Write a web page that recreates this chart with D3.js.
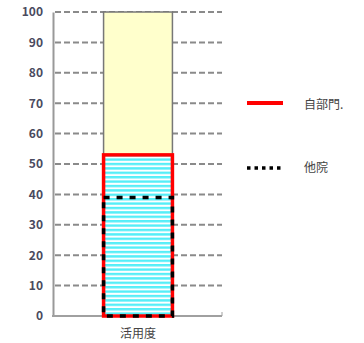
<!DOCTYPE html>
<html><head><meta charset="utf-8">
<script src="https://cdn.jsdelivr.net/npm/d3@7"></script>
<style>body{margin:0;background:#fff;}svg{display:block;}</style>
</head><body>
<script>
const categories = ["活用度"];
const selfValues = [53];      // 自部門
const otherValues = [39];     // 他院
const maxValues = [100];
const yTicks = [0,10,20,30,40,50,60,70,80,90,100];
const legendLabels = ["自部門.", "他院"];

const W = 364, H = 343;
const svg = d3.select("body").append("svg").attr("width", W).attr("height", H);
const defs = svg.append("defs");
const pat = defs.append("pattern").attr("id","stripes").attr("patternUnits","userSpaceOnUse")
  .attr("width", 10).attr("height", 4.4);
pat.append("rect").attr("width",10).attr("height",4.4).attr("fill","#ffffff");
pat.append("rect").attr("y",0).attr("width",10).attr("height",2.4).attr("fill","#55eef8");

const y = d3.scaleLinear().domain([0,100]).range([316,12]);
const x = d3.scaleBand().domain(categories).range([54,222]).paddingInner(0).paddingOuter(0.72);

const font = "'Noto Sans CJK JP', 'DejaVu Sans', sans-serif";

// grid
const grid = svg.append("g");
yTicks.filter(t=>t>0).forEach(t=>{
  grid.append("line").attr("x1",55).attr("x2",222).attr("y1",y(t)).attr("y2",y(t))
    .attr("stroke", "#8a8a8a").attr("stroke-width",2).attr("stroke-dasharray","6,3");
});

// axis
const yAxis = d3.axisLeft(y).tickValues(yTicks).tickSize(0).tickPadding(10);
const ga = svg.append("g").attr("transform","translate(53,0)").call(yAxis);
ga.select(".domain").attr("stroke","#999").attr("stroke-width",2);
ga.selectAll("text").attr("font-family",font).attr("font-size",12).attr("font-weight","bold")
  .attr("fill","#4a4a5e");
svg.append("line").attr("x1",52).attr("x2",222).attr("y1",y(0)).attr("y2",y(0))
  .attr("stroke","#a0a0a0").attr("stroke-width",2);
svg.append("line").attr("x1",222).attr("x2",222).attr("y1",y(0)-4).attr("y2",y(0))
  .attr("stroke","#a0a0a0").attr("stroke-width",1);

// bars
const bx = d => x(d), bw = x.bandwidth();
svg.selectAll(".bg").data(categories).enter().append("rect")
  .attr("x", bx).attr("width", bw).attr("y", (d,i)=>y(maxValues[i])).attr("height",(d,i)=>y(selfValues[i])-y(maxValues[i]))
  .attr("fill","#ffffcc").attr("stroke","#777").attr("stroke-width",1.5);
svg.selectAll(".self").data(categories).enter().append("rect")
  .attr("x", bx).attr("width", bw).attr("y", (d,i)=>y(selfValues[i])).attr("height",(d,i)=>y(0)-y(selfValues[i]))
  .attr("fill","url(#stripes)").attr("stroke","#ff0000").attr("stroke-width",3.5);
svg.selectAll(".other").data(categories).enter().append("rect")
  .attr("x", bx).attr("width", bw).attr("y", (d,i)=>y(otherValues[i])).attr("height",(d,i)=>y(0)-y(otherValues[i]))
  .attr("fill","none").attr("stroke","#000").attr("stroke-width",3.5).attr("stroke-dasharray","6,7");

// x label
svg.selectAll(".xl").data(categories).enter().append("text")
  .attr("x", d=>bx(d)+bw/2).attr("y",338).attr("text-anchor","middle")
  .attr("font-family",font).attr("font-size",12).attr("fill","#444").text(d=>d);

// legend
const lg = svg.append("g");
lg.append("line").attr("x1",247).attr("x2",283).attr("y1",103).attr("y2",103)
  .attr("stroke","#ff0000").attr("stroke-width",4);
lg.append("line").attr("x1",247).attr("x2",283).attr("y1",168).attr("y2",168)
  .attr("stroke","#000").attr("stroke-width",3.5).attr("stroke-dasharray","3.5,4");
lg.append("text").attr("x",304).attr("y",109).attr("font-family",font).attr("font-size",12)
  .attr("fill","#444").text(legendLabels[0]);
lg.append("text").attr("x",304).attr("y",172).attr("font-family",font).attr("font-size",12)
  .attr("fill","#444").text(legendLabels[1]);
</script>
</body></html>
